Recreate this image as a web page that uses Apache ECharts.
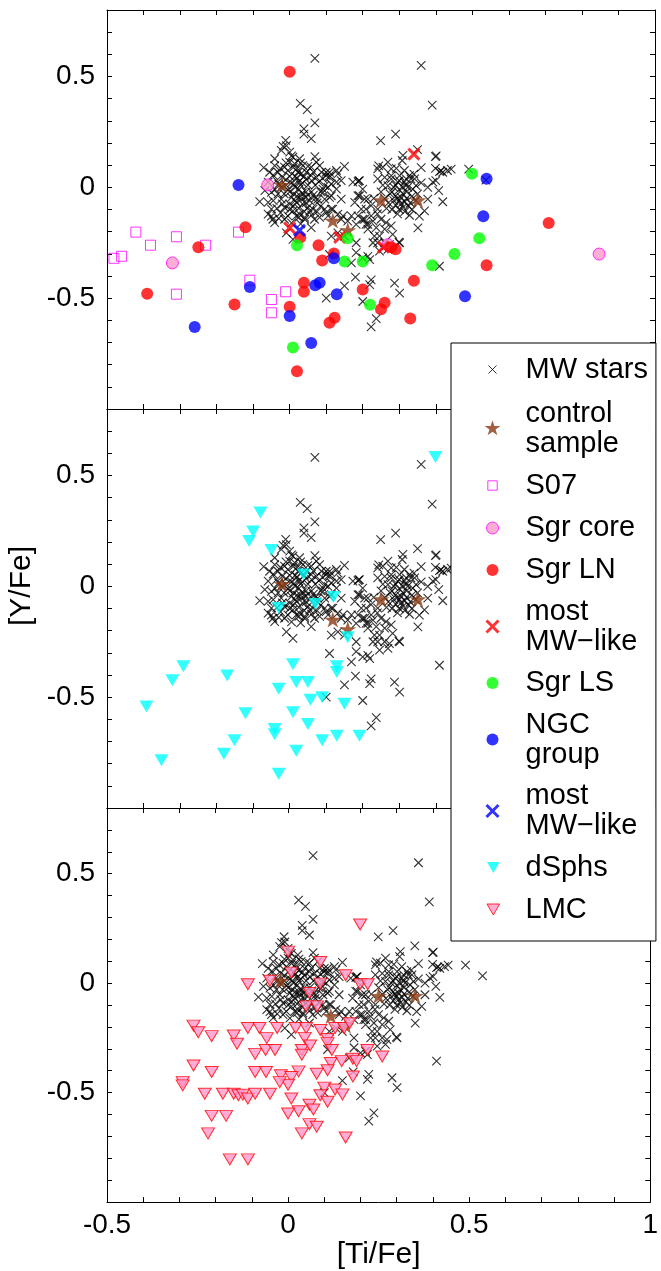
<!DOCTYPE html>
<html><head><meta charset="utf-8">
<script src="https://cdn.jsdelivr.net/npm/echarts@6/dist/echarts.min.js"></script>
<style>html,body{margin:0;padding:0;background:#fff}#c{width:661px;height:1271px}</style>
</head><body><div id="c"></div>
<script>
// ---------------- data ----------------
const mwStars = [
 [0.069,0.582],[0.360,0.550],[0.390,0.371],
 [0.029,0.379],[0.048,0.351],[0.069,0.291],[0.039,0.264],[0.039,0.240],[0.059,0.220],
 [-0.011,0.212],[-0.018,0.185],[0.000,0.159],[0.009,0.136],[0.069,0.139],[0.073,0.114],
 [0.249,0.211],[0.290,0.240],[0.350,0.170],[0.310,0.144],[0.308,0.121],[0.399,0.139],
 [0.360,0.089],[0.399,0.086],[0.410,0.071],[0.419,0.068],[0.432,0.076],[0.442,0.082],[0.490,0.082],[0.537,0.033],
 [0.241,0.083],[0.255,0.091],[0.269,0.114],[0.292,0.086],[0.278,0.083],[0.314,0.076],
 [0.278,0.053],[0.301,0.053],[0.319,0.038],[0.332,0.038],[0.328,0.053],[0.342,0.038],[0.346,0.008],[0.337,-0.008],
 [0.378,0.000],[0.392,0.023],[0.408,-0.015],[0.400,0.030],[0.419,-0.065],[0.378,-0.053],[0.369,-0.106],[0.328,-0.126],[0.351,-0.183],
 [0.241,0.038],[0.260,0.045],[0.278,0.038],[0.269,0.008],[0.296,0.023],[0.314,0.023],[0.323,0.000],
 [0.150,0.095],[0.128,0.076],[0.109,0.053],[0.132,0.061],[0.128,0.023],[0.141,0.030],[0.187,0.026],[0.105,0.000],[0.114,-0.038],
 [0.173,0.023],[0.200,-0.008],[0.214,-0.053],[0.191,-0.038],[0.178,-0.068],[0.209,-0.098],[0.200,-0.144],[0.214,-0.167],[0.169,-0.129],[0.182,-0.167],[0.146,-0.129],
 [0.100,0.053],[0.091,-0.008],[0.128,-0.008],[0.141,-0.053],[0.096,-0.053],[0.118,-0.098],
 [0.187,-0.038],[0.205,-0.053],[0.196,-0.098],[0.223,-0.083],[0.241,-0.098],[0.187,-0.129],[0.205,-0.144],[0.228,-0.152],[0.250,-0.144],[0.264,-0.159],[0.278,-0.174],[0.260,-0.189],[0.282,-0.212],[0.214,-0.189],[0.232,-0.220],[0.241,-0.250],[0.260,-0.250],[0.269,-0.280],[0.301,-0.250],[0.182,-0.250],
 [0.150,-0.220],[0.132,-0.205],[0.114,-0.220],[0.109,-0.303],[0.182,-0.295],[0.200,-0.318],[0.219,-0.326],[0.169,-0.341],[0.180,-0.405],[0.223,-0.417],[0.219,-0.439],[0.150,-0.445],[0.287,-0.432],[0.301,-0.477],[0.100,-0.500],[0.200,-0.515],
 [0.132,-0.121],[0.141,-0.144],[0.159,-0.152],
 [0.191,0.030],[0.209,-0.167],[0.223,-0.129],[0.237,-0.182],[0.246,-0.220],[0.228,-0.250],[0.246,-0.288],[0.214,-0.311],
 [0.410,-0.356],[0.299,-0.247],[0.273,-0.258],[0.237,-0.592],[0.223,-0.630],
 [-0.071,0.089],[-0.082,-0.064],[-0.050,-0.130],[-0.009,0.188],[0.005,0.142],
 [-0.023,0.167],[0.014,0.106],[-0.014,0.091],[0.000,0.114],[0.059,0.091],
 [-0.041,0.098],[-0.055,0.068],
 [-0.059,0.023],[-0.068,-0.015],[-0.050,-0.023],[-0.059,-0.068],[-0.050,-0.098],[-0.059,-0.121],[-0.046,-0.144],[-0.041,-0.159],
 [0.027,0.129],[0.036,0.098],[0.023,0.068],[0.046,0.068],[0.059,0.053],[0.073,0.045],[0.082,0.098],[0.087,0.068],[0.100,0.068],[0.109,0.045],[0.096,0.008],[0.114,0.015],[0.091,-0.023],[0.109,-0.045],[0.077,-0.053],[0.096,-0.098],[0.114,-0.098],[0.082,-0.136],[0.105,-0.129],[0.068,-0.144],[0.055,-0.106],[0.041,-0.144],[0.027,-0.121],[0.018,-0.068],[0.032,-0.053],[0.000,-0.076],[0.009,-0.106],[-0.005,-0.129],[-0.014,-0.091],[-0.023,-0.053],[-0.032,-0.030],[-0.023,0.000],[-0.036,0.030],[-0.032,0.068],[-0.041,0.129],
 [-0.014,-0.144],[-0.009,-0.205],[0.009,-0.235],[0.041,-0.136],[0.059,-0.182],[0.018,-0.129],[0.064,-0.098],[0.100,-0.114],
 [0.005,0.020],[0.015,0.000],[0.025,-0.010],[0.035,0.020],[0.045,-0.020],[0.010,-0.030],[0.020,0.040],[0.030,-0.040],[0.050,0.010],[0.055,-0.060],[-0.005,-0.010],[0.000,0.050],[0.040,0.050],[0.015,-0.060],[0.025,0.025],[-0.010,0.035],[0.060,-0.020],[0.070,0.010],[0.035,-0.075],[0.005,-0.045],[-0.015,-0.030],[0.045,0.035],[0.065,-0.035],[0.020,0.085],[-0.005,0.075],[0.030,0.010],[0.050,-0.090],[0.075,-0.070],[0.012,0.012],[0.042,-0.045],
 [-0.045,0.055],[-0.030,0.015],[-0.040,-0.010],[-0.020,-0.075],[-0.035,-0.095],[-0.025,-0.115],[0.000,-0.100],[0.010,-0.085],[0.025,-0.095],[0.040,-0.110],[0.060,-0.125],[0.075,-0.110],[0.085,-0.085],[0.070,-0.050],[0.085,-0.020],[0.080,0.025],[0.065,0.070],[0.050,0.095],[0.030,0.110],[0.010,0.090],[-0.010,0.110],[-0.025,0.085],[-0.020,0.045],[-0.010,0.010],[0.000,-0.020],[0.020,-0.040],[0.035,-0.025],[0.050,-0.035],[0.030,0.060],[0.060,0.030],[0.015,0.050],[-0.045,-0.060],[-0.030,-0.140],[0.005,-0.160],[0.030,-0.165],[0.090,0.040],[0.045,-0.070],[0.025,-0.135],
 [0.280,-0.020],[0.290,-0.040],[0.300,-0.060],[0.310,-0.030],[0.320,-0.050],[0.330,-0.070],[0.290,-0.080],[0.300,-0.010],[0.310,-0.090],[0.320,-0.020],[0.285,-0.060],[0.295,-0.050],[0.305,-0.045],[0.315,-0.065],[0.325,-0.085],[0.270,-0.070],[0.335,-0.040],[0.300,-0.100],[0.275,-0.030],[0.310,0.000],[0.260,-0.050],[0.345,-0.060],[0.290,0.010],[0.315,-0.110],[0.280,-0.100],
 [0.250,-0.020],[0.265,-0.095],[0.295,-0.120],[0.335,-0.100],[0.350,-0.030],[0.360,0.020],[0.340,0.060],[0.300,0.030],[0.285,0.000],[0.255,0.010],[0.230,-0.050],[0.240,-0.120],[0.355,-0.130],[0.320,0.010],[0.305,-0.075],
 [0.109,0.067],[0.244,0.097],[0.189,0.029],[0.401,0.142],[0.414,0.074]
];
const controlSample = [[-0.021,0.011],[0.118,-0.150],[0.159,-0.193],[0.250,-0.058],[0.351,-0.058]];
const s07 = [[-0.481,-0.320],[-0.460,-0.311],[-0.421,-0.202],[-0.381,-0.261],[-0.310,-0.223],[-0.310,-0.482],[-0.230,-0.261],[-0.140,-0.202],[-0.109,-0.419],[-0.011,-0.471],[-0.050,-0.506],[-0.050,-0.566]];
const sgrCore = [[-0.321,-0.341],[-0.060,0.011],[0.269,-0.259],[0.847,-0.301]];
const sgrLN = [[0.000,0.521],[-0.121,-0.180],[-0.250,-0.270],[-0.390,-0.480],[-0.151,-0.529],[0.000,-0.539],[0.020,-0.830],[0.029,-0.226],[0.079,-0.261],[0.089,-0.330],[0.121,-0.298],[0.039,-0.430],[0.039,-0.471],[0.123,-0.588],[0.109,-0.611],[0.200,-0.461],[0.250,-0.550],[0.260,-0.521],[0.278,-0.270],[0.290,-0.279],[0.340,-0.421],[0.330,-0.592],[0.539,-0.352],[0.709,-0.161]];
const sgrLNmostMW = [[0.000,-0.183],[0.137,-0.226],[0.340,0.150],[0.257,-0.270]];
const sgrLS = [[0.020,-0.261],[0.159,-0.230],[0.150,-0.335],[0.200,-0.335],[0.220,-0.530],[0.009,-0.723],[0.499,0.061],[0.519,-0.230],[0.451,-0.301],[0.390,-0.352]];
const ngcGroup = [[-0.140,0.011],[-0.109,-0.450],[-0.260,-0.630],[0.000,-0.580],[0.059,-0.702],[0.070,-0.442],[0.082,-0.430],[0.121,-0.320],[0.129,-0.482],[0.539,0.039],[0.530,-0.130],[0.480,-0.491]];
const ngcMostMW = [[0.027,-0.194]];
const dSphs = [[-0.080,0.333],[-0.100,0.247],[-0.111,0.205],[-0.050,0.164],[0.038,0.053],[-0.030,-0.098],[0.070,-0.080],[0.120,-0.048],[0.159,-0.230],[-0.291,-0.361],[-0.321,-0.424],[-0.392,-0.542],[-0.351,-0.785],[-0.171,-0.402],[-0.121,-0.573],[-0.151,-0.694],[-0.180,-0.755],[0.009,-0.352],[-0.030,-0.462],[0.018,-0.432],[0.050,-0.432],[0.057,-0.512],[0.089,-0.500],[0.009,-0.568],[-0.041,-0.644],[-0.041,-0.667],[0.050,-0.621],[0.018,-0.742],[-0.030,-0.845],[0.089,-0.694],[0.129,-0.674],[0.129,-0.361],[0.129,-0.386],[0.150,-0.530],[0.191,-0.674],[0.399,0.583]];
const lmc = [[0.199,0.268],[0.000,0.144],[0.089,0.097],[0.009,0.048],[-0.050,0.011],[-0.111,-0.005],[0.089,-0.002],[0.159,0.036],[0.199,-0.005],[0.220,-0.005],[0.059,-0.045],[0.050,-0.106],[0.080,-0.106],[-0.261,-0.194],[-0.248,-0.224],[-0.211,-0.242],[-0.150,-0.239],[-0.141,-0.277],[-0.111,-0.205],[-0.079,-0.205],[-0.030,-0.205],[-0.059,-0.251],[0.021,-0.205],[0.050,-0.205],[0.089,-0.214],[0.130,-0.205],[0.155,-0.205],[0.170,-0.183],[0.046,-0.250],[0.109,-0.255],[-0.062,-0.305],[-0.036,-0.305],[-0.091,-0.323],[0.038,-0.305],[0.061,-0.285],[0.109,-0.274],[0.121,-0.305],[0.038,-0.327],[0.219,-0.305],[0.260,-0.335],[0.118,-0.365],[0.148,-0.356],[0.179,-0.345],[0.189,-0.356],[-0.261,-0.376],[-0.211,-0.406],[-0.091,-0.406],[-0.061,-0.406],[0.029,-0.403],[0.109,-0.398],[0.079,-0.414],[-0.020,-0.421],[0.009,-0.429],[0.000,-0.464],[-0.023,-0.452],[0.179,-0.426],[-0.291,-0.452],[-0.291,-0.467],[-0.230,-0.505],[-0.180,-0.505],[-0.150,-0.505],[-0.137,-0.512],[-0.125,-0.509],[-0.111,-0.527],[-0.091,-0.505],[-0.050,-0.505],[0.009,-0.527],[0.100,-0.477],[0.089,-0.512],[0.130,-0.486],[0.150,-0.508],[0.109,-0.542],[0.059,-0.555],[0.070,-0.577],[0.029,-0.585],[0.000,-0.595],[-0.211,-0.606],[-0.171,-0.606],[-0.221,-0.686],[0.038,-0.686],[0.059,-0.644],[0.079,-0.656],[0.159,-0.705],[-0.161,-0.805],[-0.111,-0.805]];
const xTickLabels = [-0.5, 0, 0.5, 1];
const yTickLabels = [-0.5, 0, 0.5];

// ---------------- styling ----------------
const FONT = 'Liberation Sans, Arial, Helvetica, sans-serif';
const fmt = labels => v => labels.some(t => Math.abs(t - v) < 1e-6)
  ? (v < -1e-9 ? '-' : '') + String(Math.abs(Math.round(v * 10) / 10)) : '';
const X_PATH = 'path://M0,0L10,10M10,0L0,10';
const STAR = 'M50,0L61.23,34.55L97.55,34.55L68.17,55.9L79.39,90.45L50,69.1L20.61,90.45L31.83,55.9L2.45,34.55L38.77,34.55Z';
const STAR_PATH = 'path://' + STAR;
const pad = (p, a, b) => 'path://M' + a + ',' + a + 'M' + b + ',' + b + p;
const L_X = pad('M0,0L100,100M100,0L0,100', -137, 237);
const L_XB = pad('M0,0L100,100M100,0L0,100', -75, 175);
const L_STAR = pad(STAR, -40, 140);
const L_SQ = pad('M0,0L100,0L100,100L0,100Z', -110, 210);
const L_CIRC = pad('M0,50A50,50 0 1,0 100,50A50,50 0 1,0 0,50Z', -75, 175);
const L_TRI = pad('M0,0L100,0L50,87Z', -75, 162);

const grids = [0, 1, 2].map(i => ({left: 107, top: 10 + 399 * i, width: 548, height: 399}));
const axisCommon = {
  type: 'value', axisLine: {show: true, onZero: false, lineStyle: {color: '#000', width: 1}},
  axisTick: {show: true, inside: true, length: 5, lineStyle: {color: '#000', width: 1}},
  splitLine: {show: false}
};
const xAxes = [], yAxes = [];
for (let i = 0; i < 3; i++) {
  xAxes.push(Object.assign({}, axisCommon, {gridIndex: i, position: 'bottom', min: -0.5, max: 1, interval: 0.1,
    axisLabel: {show: i === 2, interval: 0, formatter: fmt(xTickLabels), color: '#000', fontSize: 28, fontFamily: FONT, margin: 9},
    name: i === 2 ? '[Ti/Fe]' : '', nameLocation: 'middle', nameGap: 31,
    nameTextStyle: {color: '#000', fontSize: 30, fontFamily: FONT}}));
  xAxes.push(Object.assign({}, axisCommon, {gridIndex: i, position: 'top', min: -0.5, max: 1, interval: 0.1, axisLabel: {show: false}}));
  yAxes.push(Object.assign({}, axisCommon, {gridIndex: i, position: 'left', min: -1, max: 0.8, interval: 0.1,
    axisLabel: {show: true, interval: 0, formatter: fmt(yTickLabels), color: '#000', fontSize: 28, fontFamily: FONT, margin: 12}}));
  yAxes.push(Object.assign({}, axisCommon, {gridIndex: i, position: 'right', min: -1, max: 0.8, interval: 0.1, axisLabel: {show: false}}));
}

const S = {
  mw: {name: 'MW stars', symbol: X_PATH, symbolSize: 8.5, itemStyle: {color: 'none', borderColor: '#000', borderWidth: 1.1}},
  ctrl: {name: 'control\nsample', symbol: STAR_PATH, symbolSize: [17, 16], itemStyle: {color: '#8C3A12', borderColor: '#8C3A12', borderWidth: 0}},
  s07: {name: 'S07', symbol: 'rect', symbolSize: 10, itemStyle: {color: 'rgba(255,255,255,0)', borderColor: '#FF00FF', borderWidth: 1}},
  core: {name: 'Sgr core', symbol: 'circle', symbolSize: 12, itemStyle: {color: '#FF99CC', borderColor: '#FF00FF', borderWidth: 1}},
  ln: {name: 'Sgr LN', symbol: 'circle', symbolSize: 12, itemStyle: {color: '#FF0000'}},
  lnx: {name: 'most\nMW\u2212like', symbol: X_PATH, symbolSize: 11, itemStyle: {color: 'none', borderColor: '#FF0000', borderWidth: 3}},
  ls: {name: 'Sgr LS', symbol: 'circle', symbolSize: 12, itemStyle: {color: '#00FF00'}},
  ngc: {name: 'NGC\ngroup', symbol: 'circle', symbolSize: 12, itemStyle: {color: '#0000FF'}},
  ngcx: {name: 'most\nMW\u2212like ', symbol: X_PATH, symbolSize: 11, itemStyle: {color: 'none', borderColor: '#0000FF', borderWidth: 3}},
  dsph: {name: 'dSphs', symbol: 'triangle', symbolRotate: 180, symbolSize: [14, 12], itemStyle: {color: '#00FFFF'}},
  lmc: {name: 'LMC', symbol: 'triangle', symbolRotate: 180, symbolSize: [13, 11], itemStyle: {color: '#FF99CC', borderColor: '#FF0000', borderWidth: 1}}
};
const mk = (key, data, panel) => Object.assign({type: 'scatter', data: data, xAxisIndex: 2 * panel, yAxisIndex: 2 * panel,
  emphasis: {disabled: true}, animation: false}, S[key]);

const series = [
  mk('mw', mwStars, 0), mk('ctrl', controlSample, 0), mk('s07', s07, 0), mk('core', sgrCore, 0), mk('ln', sgrLN, 0),
  mk('lnx', sgrLNmostMW, 0), mk('ls', sgrLS, 0), mk('ngc', ngcGroup, 0), mk('ngcx', ngcMostMW, 0),
  mk('mw', mwStars, 1), mk('ctrl', controlSample, 1), mk('dsph', dSphs, 1),
  mk('mw', mwStars, 2), mk('ctrl', controlSample, 2), mk('lmc', lmc, 2)
];

const legendData = [
  {name: 'MW stars', icon: L_X, itemStyle: {color: 'none', borderColor: '#000', borderWidth: 1}},
  {name: 'control\nsample', icon: L_STAR, itemStyle: {color: '#8C3A12', borderWidth: 0}},
  {name: 'S07', icon: L_SQ, itemStyle: {color: 'rgba(255,255,255,0)', borderColor: '#FF00FF', borderWidth: 1}},
  {name: 'Sgr core', icon: L_CIRC, itemStyle: {color: '#FF99CC', borderColor: '#FF00FF', borderWidth: 1}},
  {name: 'Sgr LN', icon: L_CIRC, itemStyle: {color: '#FF0000', borderWidth: 0}},
  {name: 'most\nMW\u2212like', icon: L_XB, itemStyle: {color: 'none', borderColor: '#FF0000', borderWidth: 3}},
  {name: 'Sgr LS', icon: L_CIRC, itemStyle: {color: '#00FF00', borderWidth: 0}},
  {name: 'NGC\ngroup', icon: L_CIRC, itemStyle: {color: '#0000FF', borderWidth: 0}},
  {name: 'most\nMW\u2212like ', icon: L_XB, itemStyle: {color: 'none', borderColor: '#0000FF', borderWidth: 3}},
  {name: 'dSphs', icon: L_TRI, itemStyle: {color: '#00FFFF', borderWidth: 0}},
  {name: 'LMC', icon: L_TRI, itemStyle: {color: '#FF99CC', borderColor: '#FF0000', borderWidth: 1}}
];

const chart = echarts.init(document.getElementById('c'), null, {renderer: 'canvas'});
chart.setOption({
  animation: false,
  backgroundColor: '#fff',
  grid: grids,
  xAxis: xAxes,
  yAxis: yAxes,
  graphic: [{
    type: 'text', x: 22, y: 586, rotation: Math.PI / 2,
    style: {text: '[Y/Fe]', fill: '#000', fontSize: 30, fontFamily: FONT, textAlign: 'center', textVerticalAlign: 'middle'}
  }],
  legend: {
    data: legendData, orient: 'vertical', left: 451, top: 343, selectedMode: false,
    itemWidth: 56, itemHeight: 30, itemGap: 11.5,
    padding: [9, 8, 16, 24],
    backgroundColor: '#fff', borderColor: '#000', borderWidth: 1,
    textStyle: {color: '#000', fontSize: 29, fontFamily: FONT, lineHeight: 30}
  },
  series: series
});
</script></body></html>
